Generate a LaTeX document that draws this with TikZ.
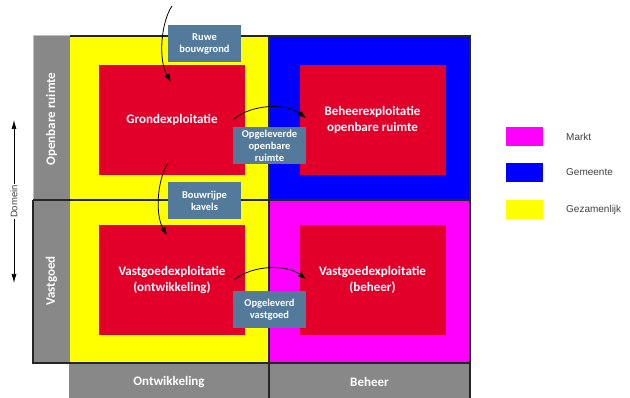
\documentclass[tikz,border=0pt]{standalone}
\usepackage{fontspec}
\setmainfont{Carlito}
\newfontfamily\arialfont{Liberation Sans}
\usetikzlibrary{arrows.meta}
\definecolor{redbox}{HTML}{E2002B}
\definecolor{lblue}{HTML}{537A9A}
\definecolor{axgrey}{HTML}{888888}
\definecolor{gridline}{HTML}{262626}
\definecolor{legtext}{HTML}{404040}
\definecolor{pmagenta}{HTML}{FF00FF}
\definecolor{pblue}{HTML}{0000FF}
\definecolor{pyellow}{HTML}{FFFF00}
\begin{document}
\begin{tikzpicture}[x=1pt,y=-1pt,
  exbox/.style={fill=redbox,draw=none,inner sep=0pt,align=center,text=white,
    font=\fontsize{13}{16}\selectfont\bfseries},
  lblbox/.style={fill=lblue,draw=none,inner sep=0pt,align=center,text=white,
    minimum width=73pt,minimum height=37pt,font=\fontsize{10.5}{12}\selectfont\bfseries},
  axlabel/.style={text=white,inner sep=0pt,font=\fontsize{13}{15}\selectfont\bfseries},
  legbox/.style={draw=none,inner sep=0pt,minimum width=37pt,minimum height=19pt},
  legtxt/.style={text=legtext,anchor=west,inner sep=0pt,font=\arialfont\fontsize{10}{12}\selectfont},
  flow/.style={draw=black,line width=0.8pt,-{Latex[length=8pt,width=6pt]}},
  gline/.style={draw=gridline,line width=1.1pt}]
\useasboundingbox (0,0) rectangle (630,398);
% background areas
\fill[axgrey] (33,36) rectangle (70,363);
\fill[pyellow] (70,36) rectangle (269,363);
\fill[pblue] (269,36) rectangle (470,200);
\fill[pmagenta] (269,200) rectangle (470,363);
\fill[axgrey] (69,363) rectangle (470,398);
% grid lines
\draw[draw=black!25,line width=1pt] (33,200) -- (33,36) -- (70,36);
\draw[gline] (70,36) -- (470,36) -- (470,398);
\draw[gline] (33,200) -- (33,363) -- (470,363);
\draw[gline] (33,200) -- (470,200);
\draw[gline] (269,36) -- (269,398);
% axis labels
\node[axlabel,rotate=90] (openb) at (51.5,119) {Openbare ruimte};
\node[axlabel,rotate=90] (vastg) at (51.5,281) {Vastgoed};
\node[axlabel] (ontw) at (169,382) {Ontwikkeling};
\node[axlabel] (beh) at (369.5,382) {Beheer};
% red boxes
\node[exbox,minimum width=146pt,minimum height=110pt] (grond) at (172,120) {Grondexploitatie};
\node[exbox,minimum width=146pt,minimum height=110pt] (beheer) at (372.5,120) {Beheerexploitatie\\openbare ruimte};
\node[exbox,minimum width=146pt,minimum height=110pt] (vgo) at (172,280) {Vastgoedexploitatie\\(ontwikkeling)};
\node[exbox,minimum width=146pt,minimum height=110pt] (vgb) at (372.5,280) {Vastgoedexploitatie\\(beheer)};
% flow arrows
\coordinate (s1) at (172,6);
\coordinate (e1) at (171,82);
\coordinate (s2) at (234,119);
\coordinate (e2) at (306,118);
\coordinate (s3) at (168,163);
\coordinate (e3) at (167,235);
\coordinate (s4) at (234,280);
\coordinate (e4) at (306,279);
\draw[flow] (s1) .. controls (161,22) and (158,60) .. (e1);
\draw[flow] (s2) .. controls (252,104) and (286,103) .. (e2);
\draw[flow] (s3) .. controls (157,180) and (155,215) .. (e3);
\draw[flow] (s4) .. controls (252,265) and (286,264) .. (e4);
% label boxes
\node[lblbox] (ruwe) at (204.5,43.5) {Ruwe\\bouwgrond};
\node[lblbox] (opor) at (269.5,145.5) {Opgeleverde\\openbare\\ruimte};
\node[lblbox] (bouwr) at (204.5,200.5) {Bouwrijpe\\kavels};
\node[lblbox] (opvg) at (269.5,309.5) {Opgeleverd\\vastgoed};
% domain axis
\coordinate (dtop) at (14,120);
\coordinate (dbot) at (14,283);
\draw[draw=black,line width=0.7pt,{Latex[length=9pt,width=5pt]}-{Latex[length=9pt,width=5pt]}] (dtop) -- (dbot);
\node[fill=white,inner sep=1pt,rotate=90,text=legtext,font=\arialfont\fontsize{9.5}{11}\selectfont] (dom) at (14,201.5) {Domein};
% legend
\node[legbox,fill=pmagenta] (lm) at (524.5,136.5) {};
\node[legbox,fill=pblue] (lg) at (524.5,172.5) {};
\node[legbox,fill=pyellow] (lz) at (524.5,209.5) {};
\node[legtxt] (tm) at (566,136.5) {Markt};
\node[legtxt] (tg) at (566,172.5) {Gemeente};
\node[legtxt] (tz) at (566,209.5) {Gezamenlijk};
\end{tikzpicture}
\end{document}
